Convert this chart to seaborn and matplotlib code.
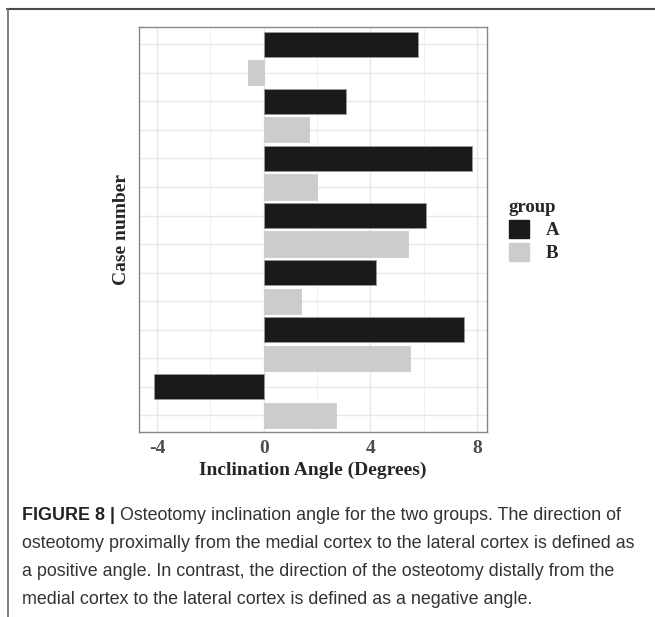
import numpy as np
import pandas as pd
import matplotlib
matplotlib.use("Agg")
import matplotlib.pyplot as plt
import seaborn as sns
from matplotlib.lines import Line2D
from matplotlib.patches import Patch
from matplotlib.colors import to_hex

# data, rows listed top to bottom
rows = ["1A", "1B", "2A", "2B", "3A", "3B", "4A", "4B", "5A", "5B", "6A", "6B", "7A", "7B"]
groups = ["A", "B", "A", "B", "A", "B", "A", "B", "A", "B", "A", "B", "A", "B"]
angles = [5.8, -0.6, 3.1, 1.7, 7.8, 2.0, 6.1, 5.4, 4.2, 1.4, 7.5, 5.5, -4.1, 2.7]
x_ticks = [-4, 0, 4, 8]
group_colors = {"A": "#1a1a1a", "B": "#cccccc"}

df = pd.DataFrame({"row": rows, "group": groups, "angle": angles})

sns.set_style("white")
serif = ["Liberation Serif", "DejaVu Serif"]

fig = plt.figure(figsize=(6.55, 6.17), dpi=100)
ax = fig.add_axes([139 / 655, 1 - 432 / 617, 348 / 655, 405 / 617])

sns.barplot(data=df, x="angle", y="row", hue="group", order=rows,
            palette=group_colors, dodge=False, orient="h", width=0.88,
            edgecolor="#9a9a9a", linewidth=0.6, legend=False, ax=ax)
# only the dark bars keep a light outline
for patch in ax.patches:
    if to_hex(patch.get_facecolor()) == group_colors["B"]:
        patch.set_edgecolor(group_colors["B"])

ax.set_xlim(-4.68, 8.38)
ax.set_ylim(13.58, -0.6)
ax.set_xticks(x_ticks)
ax.set_xticks([-2, 2, 6], minor=True)
ax.set_xticklabels([str(t) for t in x_ticks], fontfamily=serif,
                   fontweight="bold", fontsize=14, color="#4d4d4d")
ax.set_yticks(range(len(rows)))
ax.set_yticklabels([])
ax.tick_params(axis="both", which="major", length=3, color="#555555", width=0.8)
ax.tick_params(axis="x", which="major", pad=3)
ax.tick_params(axis="x", which="minor", length=0)
ax.grid(True, which="major", color="#e8e8e8", linewidth=1.0)
ax.grid(True, which="minor", axis="x", color="#f0f0f0", linewidth=0.7)
ax.set_axisbelow(True)
for s in ax.spines.values():
    s.set_color("#888888")
    s.set_linewidth(1.0)

ax.set_xlabel("Inclination Angle (Degrees)", fontfamily=serif, fontweight="bold",
              fontsize=14, labelpad=3)
ax.set_ylabel("Case number", fontfamily=serif, fontweight="bold",
              fontsize=14, labelpad=0)

# legend
handles = [Patch(facecolor=group_colors[g], edgecolor=group_colors[g]) for g in ["A", "B"]]
leg = fig.legend(handles, ["A", "B"], title="group", loc="upper left",
                 bbox_to_anchor=(492 / 655, 1 - 182 / 617), frameon=False,
                 prop={"family": serif, "weight": "bold", "size": 13.5},
                 title_fontproperties={"family": serif, "weight": "bold", "size": 13.5},
                 handlelength=1.05, handleheight=1.1, handletextpad=0.9,
                 labelspacing=0.2)
leg._legend_box.align = "left"

# outer frame lines (top and left)
fig.add_artist(Line2D([7 / 655, 1], [1 - 8.5 / 617, 1 - 8.5 / 617],
                      transform=fig.transFigure, color="#4a4a4a", linewidth=1.5))
fig.add_artist(Line2D([7.5 / 655, 7.5 / 655], [0, 1 - 8.5 / 617],
                      transform=fig.transFigure, color="#6a6a6a", linewidth=1.2))

# caption
cap_font = ["Liberation Sans", "DejaVu Sans"]
cap_size = 12.85
cap_lines = [
    "Osteotomy inclination angle for the two groups. The direction of",
    "osteotomy proximally from the medial cortex to the lateral cortex is defined as",
    "a positive angle. In contrast, the direction of the osteotomy distally from the",
    "medial cortex to the lateral cortex is defined as a negative angle.",
]
x0 = 22 / 655
t = fig.text(x0, 1 - 516 / 617, "FIGURE 8 | ", fontfamily=cap_font, fontweight="bold",
             fontsize=cap_size, color="#222222", va="center")
fig.canvas.draw()
bb = t.get_window_extent()
fig.text(bb.x1 / fig.bbox.width, 1 - 516 / 617, cap_lines[0], fontfamily=cap_font,
         fontsize=cap_size, color="#333333", va="center")
for i, line in enumerate(cap_lines[1:]):
    fig.text(x0, 1 - (544 + 28 * i) / 617, line, fontfamily=cap_font,
             fontsize=cap_size, color="#333333", va="center")

fig.savefig("out.png", dpi=100)
